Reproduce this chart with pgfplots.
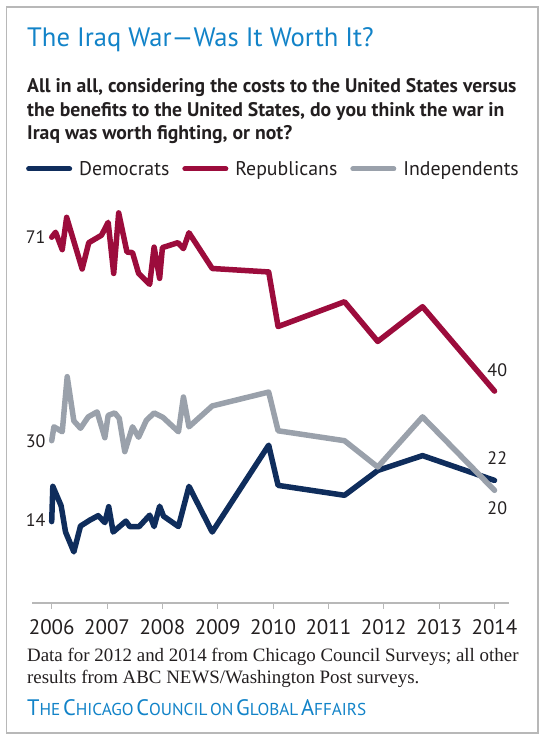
\documentclass[border=0pt]{standalone}
\usepackage{pgfplots}
\pgfplotsset{compat=1.18}
\usepackage{fontspec}
\setmainfont{PT Sans}
\newfontfamily\seriffont{Liberation Serif}
\definecolor{titleblue}{HTML}{1283C8}
\definecolor{dem}{HTML}{0F2D5C}
\definecolor{rep}{HTML}{9C0C3C}
\definecolor{ind}{HTML}{9AA1AB}
\definecolor{txt}{HTML}{231F20}
\definecolor{framegray}{HTML}{B8B8B8}
\newcommand\fsc[2]{{\fontsize{22.4}{25}\selectfont #1}{\fontsize{17.2}{20}\selectfont #2}}
\begin{document}
\begin{tikzpicture}[x=1pt,y=1pt]
\useasboundingbox (0,0) rectangle (547,744);
\draw[color=framegray, line width=1.5pt] (6.5,11) rectangle (538,737);
\node[anchor=base west, text=titleblue, font=\fontsize{26.6}{30}\selectfont, inner sep=0] at (27,697) {The Iraq War—Was It Worth It?};
\begin{scope}[every node/.style={anchor=base west, text=txt, font=\fontsize{19.7}{23}\selectfont\bfseries, inner sep=0}]
\node at (27,651) {All in all, considering the costs to the United States versus};
\node at (27,627.5) {the benefits to the United States, do you think the war in};
\node at (27,604) {Iraq was worth fighting, or not?};
\end{scope}
\begin{axis}[
  at={(32pt,141pt)}, anchor=south west,
  width=477pt, height=403pt, scale only axis,
  xmin=2005.644, xmax=2014.262,
  ymin=-2.7, ymax=78.5,
  axis x line=bottom, axis y line=none,
  x axis line style={-, draw=black!28, line width=1.3pt},
  xtick={2006,2007,...,2014},
  tick align=outside,
  major tick length=6pt,
  x tick style={draw=black!28, line width=1pt},
  xticklabel style={text=txt, font=\fontsize{21}{24}\selectfont, anchor=base, yshift=-26pt},
  /pgf/number format/assume math mode=true,
  /pgf/number format/1000 sep={},
  clip=false,
  legend columns=3,
  legend style={draw=none, fill=none, at={(-0.019,1.077)}, anchor=west,
    font=\fontsize{19.8}{23}\selectfont, text=txt,
    /tikz/every odd column/.append style={column sep=5pt},
    /tikz/every even column/.append style={column sep=11pt}},
  legend image code/.code={\draw[#1, line width=5pt, line cap=round] (0pt,0pt) -- (41pt,0pt);},
  every axis plot/.append style={line width=5.5pt, line join=round, line cap=round},
]
\addplot[dem] coordinates {
(2006.00,13.7) (2006.02,20.8) (2006.17,16.9) (2006.25,11.6) (2006.40,7.6)
(2006.52,12.8) (2006.69,14) (2006.84,14.9) (2006.96,13.5) (2007.03,16.7)
(2007.11,11.6) (2007.34,13.8) (2007.41,12.7) (2007.58,12.7) (2007.77,15)
(2007.85,12.7) (2007.95,16.8) (2008.02,14.8) (2008.29,12.7) (2008.48,20.8)
(2008.90,11.6) (2009.92,29.1) (2010.09,21) (2011.29,19) (2011.89,24)
(2012.70,27) (2014.00,22)};
\addlegendentry{Democrats}
\addplot[rep] coordinates {
(2006.00,71) (2006.07,72) (2006.19,68.5) (2006.27,75) (2006.55,64.6)
(2006.67,69.9) (2006.90,71.4) (2007.02,74) (2007.12,63.7) (2007.21,75.9)
(2007.36,68) (2007.46,67.9) (2007.57,63.7) (2007.77,61.5) (2007.85,69)
(2007.95,62.7) (2008.00,68.9) (2008.28,69.9) (2008.38,68.7) (2008.48,71.9)
(2008.90,64.7) (2009.92,64) (2010.09,53) (2011.29,58) (2011.89,50)
(2012.70,57) (2014.00,40)};
\addlegendentry{Republicans}
\addplot[ind] coordinates {
(2006.00,30) (2006.04,32.8) (2006.19,31.8) (2006.28,42.9) (2006.40,34)
(2006.52,32.5) (2006.66,34.8) (2006.82,35.8) (2006.96,30.6) (2007.02,35.1)
(2007.14,35.6) (2007.22,34.5) (2007.32,27.8) (2007.46,32.8) (2007.57,30.7)
(2007.71,34.1) (2007.85,35.6) (2008.01,34.7) (2008.29,31.8) (2008.38,38.8)
(2008.48,32.8) (2008.90,37) (2009.92,39.8) (2010.09,32) (2011.29,30)
(2011.89,24.7) (2012.70,34.8) (2014.00,20)};
\addlegendentry{Independents}
\begin{scope}[every node/.style={text=txt, font=\fontsize{18}{21}\selectfont, inner sep=0}]
\node[anchor=east] at (axis cs:2006,71) [xshift=-6pt] {71};
\node[anchor=east] at (axis cs:2006,30) [xshift=-6pt] {30};
\node[anchor=east] at (axis cs:2006,14) [xshift=-6pt] {14};
\node at (axis cs:2014.05,44.3) {40};
\node at (axis cs:2014.05,26.4) {22};
\node at (axis cs:2014.05,16.4) {20};
\end{scope}
\end{axis}
\node[anchor=base west, text=txt, font=\seriffont\fontsize{18.9}{22}\selectfont, inner sep=0] at (27,82) {Data for 2012 and 2014 from Chicago Council Surveys; all other};
\node[anchor=base west, text=txt, font=\seriffont\fontsize{18.9}{22}\selectfont, inner sep=0] at (27,60) {results from ABC NEWS/Washington Post surveys.};
\node[anchor=base west, text=titleblue, inner sep=0] at (27,28) {\fsc{T}{HE} \fsc{C}{HICAGO} \fsc{C}{OUNCIL} {\fontsize{17.2}{20}\selectfont ON} \fsc{G}{LOBAL} \fsc{A}{FFAIRS}};
\end{tikzpicture}
\end{document}
